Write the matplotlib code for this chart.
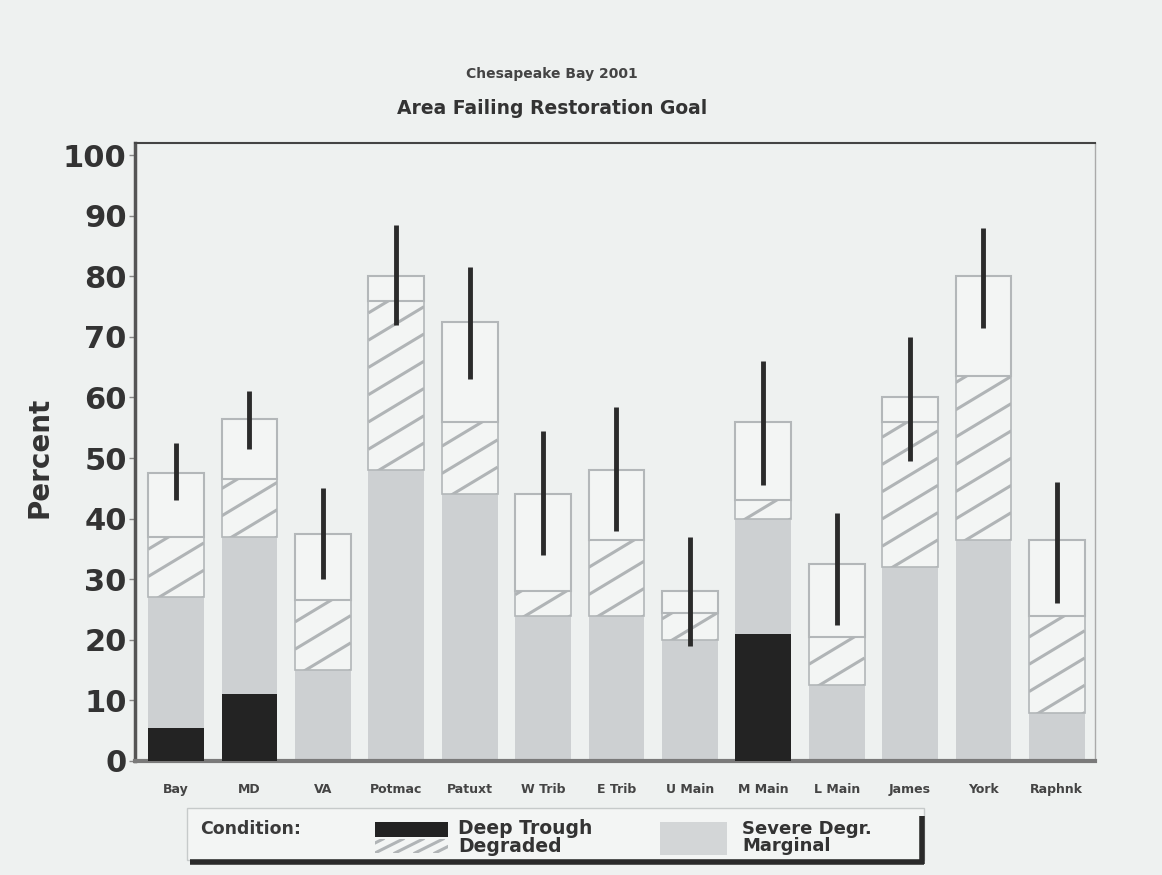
import matplotlib.pyplot as plt
import matplotlib.patches as mpatches
import numpy as np

sites = ["Bay", "MD", "VA", "Potmac", "Patuxt", "W Trib", "E Trib",
         "U Main", "M Main", "L Main", "James", "York", "Raphnk"]

# cumulative tops of each condition class, percent of area
deep_trough = [5.5, 11, 0, 0, 0, 0, 0, 0, 21, 0, 0, 0, 0]
severe_top = [27, 37, 15, 48, 44, 24, 24, 20, 40, 12.5, 32, 36.5, 8]
degraded_top = [37, 46.5, 26.5, 76, 56, 28, 36.5, 24.5, 43, 20.5, 56, 63.5, 24]
marginal_top = [47.5, 56.5, 37.5, 80, 72.5, 44, 48, 28, 56, 32.5, 60, 80, 36.5]

# confidence interval around the total failing area
ci_low = [43, 51.5, 30, 72, 63, 34, 38, 19, 45.5, 22.5, 49.5, 71.5, 26]
ci_high = [52.5, 61, 45, 88.5, 81.5, 54.5, 58.5, 37, 66, 41, 70, 88, 46]

bg = "#eef1f0"
light = "#f3f5f4"
outline = "#b3b7b9"
hatch_col = "#b0b4b6"

fig = plt.figure(figsize=(11.62, 8.75), dpi=100, facecolor=bg)
ax = fig.add_axes([135 / 1162, 1 - 761 / 875, 960 / 1162, 618 / 875])
ax.set_facecolor(bg)

x = np.arange(len(sites))
w = 0.76
deep = np.array(deep_trough, float)
sev = np.array(severe_top, float)
deg = np.array(degraded_top, float)
mar = np.array(marginal_top, float)

ax.bar(x, deep, w, color="#232323", zorder=3)
ax.bar(x, sev - deep, w, bottom=deep, color="#cdd0d2", zorder=2)
hbars = ax.bar(x, deg - sev, w, bottom=sev, color=light,
               edgecolor=outline, linewidth=1.2, zorder=2)
ax.bar(x, mar - deg, w, bottom=deg, color=light,
       edgecolor=outline, linewidth=1.5, zorder=2)

ax.set_xlim(-0.56, 12.52)
ax.set_ylim(0, 102)

# diagonal hatching on the "degraded" segment, clipped to each bar
slope = 7.3
step = 4.5
for rect in hbars:
    x0, y0 = rect.get_xy()
    wd, ht = rect.get_width(), rect.get_height()
    if ht <= 0:
        continue
    for c in np.arange(-slope * wd, ht, step):
        ln, = ax.plot([x0, x0 + wd], [y0 + c, y0 + c + slope * wd],
                      color=hatch_col, lw=2.2, zorder=2.5,
                      solid_capstyle="butt")
        ln.set_clip_path(rect)

ax.vlines(x, ci_low, ci_high, color="#2b2b2b", lw=3.5, zorder=4)

ax.set_yticks(np.arange(0, 101, 10))
ax.set_yticklabels([str(v) for v in range(0, 101, 10)],
                   fontsize=22, fontweight="bold", color="#333333",
                   family="DejaVu Sans")
ax.tick_params(axis="y", length=4, width=1, color="#888888", pad=2)
ax.set_xticks(x)
ax.set_xticklabels(sites, fontsize=9, fontweight="bold", color="#444444")
ax.tick_params(axis="x", length=0, pad=16)

ax.spines["left"].set_linewidth(2.5)
ax.spines["left"].set_color("#555555")
ax.spines["bottom"].set_linewidth(3)
ax.spines["bottom"].set_color("#7a7a7a")
ax.spines["top"].set_linewidth(1.5)
ax.spines["top"].set_color("#444444")
ax.spines["right"].set_linewidth(1)
ax.spines["right"].set_color("#aaaaaa")

fig.text(40 / 1162, 1 - 457 / 875, "Percent", rotation=90, ha="center",
         va="center", fontsize=20, fontweight="bold", color="#333333")
fig.text(552 / 1162, 1 - 74 / 875, "Chesapeake Bay 2001", ha="center",
         va="center", fontsize=10, fontweight="bold", color="#444444")
fig.text(552 / 1162, 1 - 108 / 875, "Area Failing Restoration Goal",
         ha="center", va="center", fontsize=13.5, fontweight="bold",
         color="#333333")

# legend panel, laid out in pixel units
lax = fig.add_axes([0, 0, 1, 1], facecolor="none")
lax.set_xlim(0, 1162)
lax.set_ylim(875, 0)
lax.axis("off")
lax.add_patch(mpatches.Rectangle((187, 808), 737, 52, facecolor=light,
                                 edgecolor="#c6caca", lw=1))
lax.plot([190, 924], [862, 862], color="#2a2a2a", lw=4,
         solid_capstyle="butt")
lax.plot([922, 922], [816, 864], color="#2a2a2a", lw=4,
         solid_capstyle="butt")
lax.text(200, 829, "Condition:", fontsize=12.5, fontweight="bold",
         va="center", color="#3a3a3a")
lax.add_patch(mpatches.Rectangle((375, 822), 73, 15, facecolor="#222222"))
swatch = mpatches.Rectangle((375, 839), 73, 14, facecolor=light,
                            edgecolor="none")
lax.add_patch(swatch)
for c in range(-40, 80, 20):
    ln, = lax.plot([375 + c, 375 + c + 28], [853, 839], color=hatch_col,
                   lw=2.2)
    ln.set_clip_path(swatch)
lax.text(458, 829, "Deep Trough", fontsize=13.5, fontweight="bold",
         va="center", color="#333333")
lax.text(458, 846, "Degraded", fontsize=13.5, fontweight="bold",
         va="center", color="#333333")
lax.add_patch(mpatches.Rectangle((660, 822), 67, 33, facecolor="#d3d6d7"))
lax.text(742, 829, "Severe Degr.", fontsize=13, fontweight="bold",
         va="center", color="#333333")
lax.text(742, 846, "Marginal", fontsize=13, fontweight="bold",
         va="center", color="#333333")

fig.savefig("out.png", dpi=100, facecolor=bg)
